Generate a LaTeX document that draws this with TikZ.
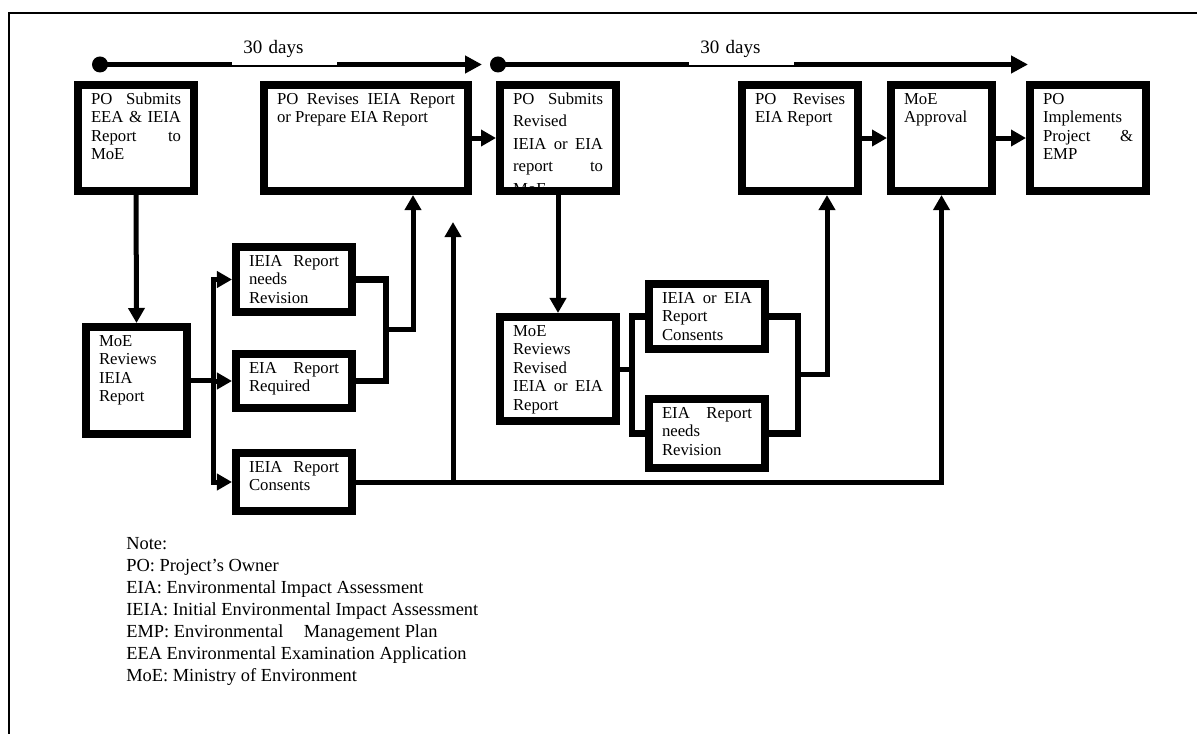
\documentclass[tikz,border=0pt]{standalone}
\usepackage{fontspec}
\setmainfont{Liberation Serif}
\usetikzlibrary{arrows.meta}

\newcommand{\boxfont}{\fontsize{11.9}{13.2}\selectfont}
\newcommand{\widefont}{\fontsize{11.9}{16.1}\selectfont}
\newcommand{\daysfont}{\fontsize{13.5}{16}\selectfont}
\newcommand{\notefont}{\fontsize{13.1}{15.65}\selectfont}

\tikzset{
	stagebox/.style 2 args = {draw, line width = 0.2cm, anchor = north west,
		inner xsep = 0.325cm, inner ysep = 0.175cm, text height = 0.3cm,
		text width = #1, text depth = #2, align = justify, font = \boxfont},
	conn/.style = {line width = 0.125cm},
	tline/.style = {line width = 0.125cm, -{Triangle[length = 0.42cm, width = 0.42cm]}},
	tdot/.style = {circle, fill, inner sep = 0pt, minimum size = 0.4cm},
	days/.style = {fill = white, anchor = south west, inner xsep = 0.275cm, inner ysep = 0.2cm,
		text width = 2.075cm, text depth = 0.1cm, align = left, font = \daysfont},
	notes/.style = {anchor = north west, inner sep = 0pt, align = left, font = \notefont}
}

\begin{document}
\begin{tikzpicture}[x = 0.025cm, y = -0.025cm, > = {Triangle[length = 0.375cm, width = 0.4cm]}]

	\useasboundingbox (0, 0) rectangle (1197, 734);

	% Frame

	\draw [line width = 0.06cm] (9, 734) -- (9, 13) -- (1197, 13);

	% Time lines

	\node [tdot] (dot1) at (100, 64.5) {};
	\coordinate (end1) at (482, 64.5);
	\draw [tline] (dot1.center) -- (end1);
	\node [days] (days1) at (232, 65.5) {30 days};

	\node [tdot] (dot2) at (498, 64.5) {};
	\coordinate (end2) at (1028, 64.5);
	\draw [tline] (dot2.center) -- (end2);
	\node [days] (days2) at (689, 65.5) {30 days};

	% Top row

	\node [stagebox = {2.25cm}{2cm}] (submit) at (74, 81) {PO Submits\linebreak EEA \& IEIA\linebreak Report to\linebreak MoE};
	\node [stagebox = {4.45cm}{2cm}] (revise) at (260, 81) {PO Revises IEIA Report\linebreak or Prepare EIA Report};
	\node [stagebox = {2.25cm}{2cm}] (resubmit) at (496, 81) {};
	\begin{scope}
		\clip ([shift = {(0.2cm, -0.2cm)}] resubmit.north west) rectangle ([shift = {(-0.2cm, 0.2cm)}] resubmit.south east);
		\node [stagebox = {2.25cm}{2cm}, draw = none, font = \widefont] (resubmitText) at (496, 81) {PO Submits\linebreak Revised\linebreak IEIA or EIA\linebreak report to\linebreak MoE};
	\end{scope}
	\node [stagebox = {2.25cm}{2cm}] (reviseEIA) at (738, 81) {PO Revises\linebreak EIA Report};
	\node [stagebox = {1.875cm}{2cm}] (approval) at (887, 81) {MoE\linebreak Approval};
	\node [stagebox = {2.25cm}{2cm}] (implement) at (1026, 81) {PO\linebreak Implements\linebreak Project \&\linebreak EMP};

	% First review

	\node [stagebox = {1.875cm}{2.025cm}] (review) at (82, 323) {MoE\linebreak Reviews\linebreak IEIA\linebreak Report};
	\node [stagebox = {2.25cm}{0.975cm}] (needsRev) at (232, 243) {IEIA Report\linebreak needs\linebreak Revision};
	\node [stagebox = {2.25cm}{0.7cm}] (eiaReq) at (232, 350) {EIA Report\linebreak Required};
	\node [stagebox = {2.25cm}{0.8cm}] (consent) at (232, 449) {IEIA Report\linebreak Consents};

	% Second review

	\node [stagebox = {2.25cm}{1.95cm}] (review2) at (496, 313) {MoE\linebreak Reviews\linebreak Revised\linebreak IEIA or EIA\linebreak Report};
	\node [stagebox = {2.25cm}{0.975cm}] (consent2) at (645, 280) {IEIA or EIA\linebreak Report\linebreak Consents};
	\node [stagebox = {2.25cm}{1.075cm}] (needsRev2) at (645, 395) {EIA Report\linebreak needs\linebreak Revision};

	% Connectors

	\draw [conn, ->] (submit.south) -- (review.north);
	\draw [conn, ->] (revise.east) -- (resubmit.west);
	\draw [conn, ->] (reviseEIA.east) -- (approval.west);
	\draw [conn, ->] (approval.east) -- (implement.west);
	\draw [conn, ->] (resubmit.south) -- (review2.north);

	\coordinate (fork1) at (213, 0);
	\draw [conn] (review.east) -- (review.east -| fork1);
	\draw [conn, line cap = rect] (fork1 |- needsRev.west) -- (fork1 |- consent.west);
	\foreach \n in {needsRev, eiaReq, consent}
		\draw [conn, ->] (fork1 |- \n.west) -- (\n.west);

	\draw [conn, line width = 0.16cm] (needsRev.east) -- ++(30, 0) |- (eiaReq.east);
	\coordinate (join1) at (385, 330);
	\coordinate (up1) at (413, 330);
	\draw [conn, ->] (join1) -- (up1) -- (up1 |- revise.south);

	\draw [conn, ->] (consent.east) -| (approval.south);
	\coordinate (free1) at (453, 222);
	\draw [conn, ->] (free1 |- consent.east) -- (free1);

	\draw [conn] (review2.east) -- ++(12, 0);
	\draw [conn, line width = 0.16cm] (consent2.west) -- ++(-13, 0) |- (needsRev2.west);

	\draw [conn, line width = 0.16cm] (consent2.east) -- ++(29, 0) |- (needsRev2.east);
	\coordinate (join2) at (798, 375);
	\coordinate (up2) at (827, 375);
	\draw [conn, ->] (join2) -- (up2) -- (up2 |- reviseEIA.south);

	% Note

	\node [notes] (note) at (126, 537) {Note:\\
		PO: Project's Owner\\
		EIA: Environmental Impact Assessment\\
		IEIA: Initial Environmental Impact Assessment\\
		EMP: Environmental\hspace{0.4cm} Management Plan\\
		EEA Environmental Examination Application\\
		MoE: Ministry of Environment};

\end{tikzpicture}
\end{document}
